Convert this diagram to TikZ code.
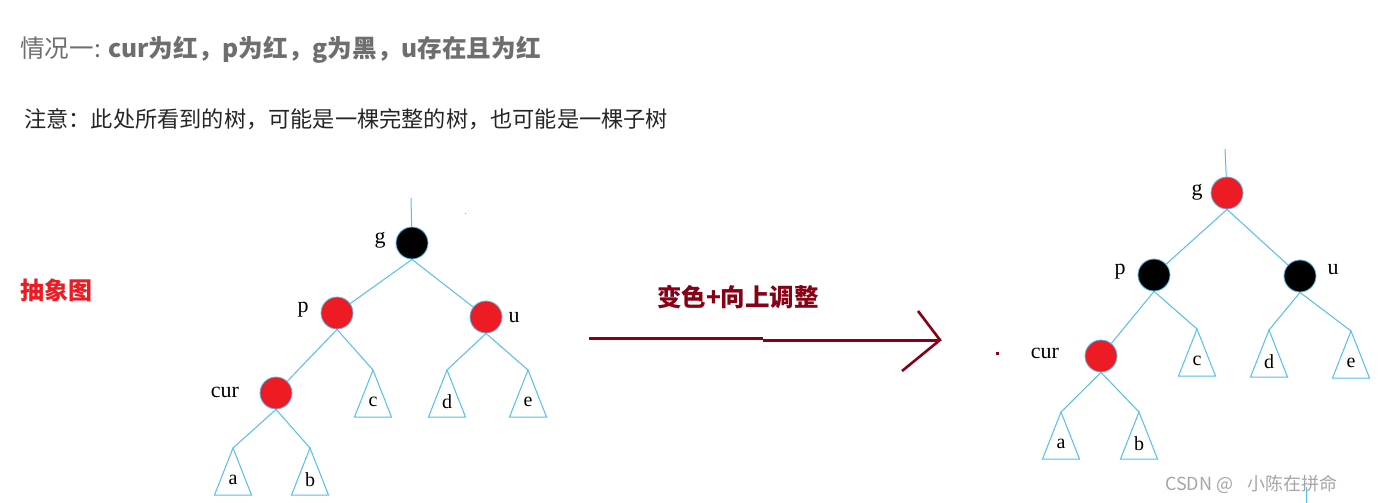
\documentclass[tikz,border=0pt]{standalone}
\usepackage{fontspec}
\setmainfont{Liberation Serif}
\newfontfamily\cjk{Noto Sans CJK SC}
\usetikzlibrary{positioning}
\definecolor{treeblue}{RGB}{85,190,235}
\definecolor{nodered}{RGB}{237,28,36}
\definecolor{arrowred}{RGB}{136,0,21}
\definecolor{titlegray}{RGB}{110,110,110}
\tikzset{
  edge/.style={draw=treeblue,line width=1pt},
  rbnode/.style={circle,minimum size=32pt,inner sep=0pt,draw=treeblue,line width=0.8pt},
  rednode/.style={rbnode,fill=nodered},
  blacknode/.style={rbnode,fill=black},
  lbl/.style={font=\fontsize{22}{22}\selectfont,inner sep=0pt},
  leaf/.style={font=\fontsize{20}{20}\selectfont,inner sep=0pt}
}
% subtree triangle hanging from an apex coordinate
\newcommand{\subtree}[2]{%
  \draw[edge] (#1) -- ++(-18.5,47) -- ++(37,0) -- cycle;
  \node[leaf] (#1-t) at ([yshift=-32pt]#1) {#2};
}
\begin{document}
\begin{tikzpicture}[x=1pt,y=-1pt]
  \useasboundingbox[fill=white] (0,0) rectangle (1378,503);

  % texts
  \node (title) [anchor=west,inner sep=0pt,text=titlegray] at (20,50)
    {\cjk\fontsize{24.6}{24.6}\selectfont 情况一: \bfseries cur为红，p为红，g为黑，u存在且为红};
  \node (note) [anchor=west,inner sep=0pt,text=black!85] at (24,119)
    {\cjk\fontsize{22.2}{22.2}\selectfont 注意：此处所看到的树，可能是一棵完整的树，也可能是一棵子树};
  \node (abstract) [anchor=west,inner sep=0pt,text=nodered] at (20,290)
    {\cjk\bfseries\fontsize{24}{24}\selectfont 抽象图};

  % left tree
  \node (g) [blacknode] at (412,243) {};
  \node (p) [rednode] at (337,313) {};
  \node (u) [rednode] at (486,317) {};
  \node (cur) [rednode] at (276,393) {};
  \coordinate (gtop) at (411,198);
  \coordinate (a) at (233,448);
  \coordinate (b) at (310,448);
  \coordinate (c) at (373,370);
  \coordinate (d) at (447,370);
  \coordinate (e) at (528,370);
  \node (glab) [lbl] at (380,240) {g};
  \node (plab) [lbl] at (303,310) {p};
  \node (ulab) [lbl] at (514,318) {u};
  \node (curlab) [lbl] at (225,392) {cur};
  \draw[edge] (gtop) -- (g);
  \draw[edge] (g.south) -- (p);
  \draw[edge] (g.south) -- (u);
  \draw[edge] (p.south) -- (cur);
  \draw[edge] (p.south) -- (c);
  \draw[edge] (u.south) -- (d);
  \draw[edge] (u.south) -- (e);
  \draw[edge] (cur.south) -- (a);
  \draw[edge] (cur.south) -- (b);
  \subtree{a}{a}
  \subtree{b}{b}
  \subtree{c}{c}
  \subtree{d}{d}
  \subtree{e}{e}
  \fill[treeblue] (464.5,212.5) rectangle (466,214);

  % arrow
  \node (step) [text=arrowred,inner sep=0pt] at (738,297)
    {\cjk\bfseries\fontsize{24.5}{24.5}\selectfont 变色+向上调整};
  \coordinate (arrowA) at (589,338);
  \coordinate (arrowB) at (763,338);
  \coordinate (arrowC) at (763,340);
  \coordinate (tip) at (940,340);
  \coordinate (headup) at (918,311);
  \coordinate (headdown) at (902,371);
  \draw[arrowred,line width=3pt] (arrowA) -- (arrowB);
  \draw[arrowred,line width=3pt] (arrowC) -- (tip);
  \draw[arrowred,line width=2.6pt] (headup) -- (tip) -- (headdown);
  \fill[arrowred] (995.5,351.5) rectangle (999,355);

  % right tree
  \node (g2) [rednode] at (1227,193) {};
  \node (p2) [blacknode] at (1154,275) {};
  \node (u2) [blacknode] at (1300,276) {};
  \node (cur2) [rednode] at (1101,356) {};
  \coordinate (gtop2) at (1225,149);
  \coordinate (a2) at (1061,412);
  \coordinate (b2) at (1139,412);
  \coordinate (c2) at (1197,329);
  \coordinate (d2) at (1269,330);
  \coordinate (e2) at (1351,331);
  \node (glab2) [lbl] at (1197,192) {g};
  \node (plab2) [lbl] at (1120,272) {p};
  \node (ulab2) [lbl] at (1333,270) {u};
  \node (curlab2) [lbl] at (1045,353) {cur};
  \draw[edge] (gtop2) -- (g2);
  \draw[edge] (g2.south) -- (p2);
  \draw[edge] (g2.south) -- (u2);
  \draw[edge] (p2.south) -- (cur2);
  \draw[edge] (p2.south) -- (c2);
  \draw[edge] (u2.south) -- (d2);
  \draw[edge] (u2.south) -- (e2);
  \draw[edge] (cur2.south) -- (a2);
  \draw[edge] (cur2.south) -- (b2);
  \subtree{a2}{a}
  \subtree{b2}{b}
  \subtree{c2}{c}
  \subtree{d2}{d}
  \subtree{e2}{e}

  % watermark
  \node (mark) [anchor=west,inner sep=0pt,text=black!35] at (1165,484)
    {\cjk\fontsize{18}{18}\selectfont CSDN @\hspace{14pt}小陈在拼命\hspace{14pt}};
  \coordinate (stubtop) at (1306,487);
  \coordinate (stubend) at (1306,503);
  \draw[edge] (stubtop) -- (stubend);
\end{tikzpicture}
\end{document}
